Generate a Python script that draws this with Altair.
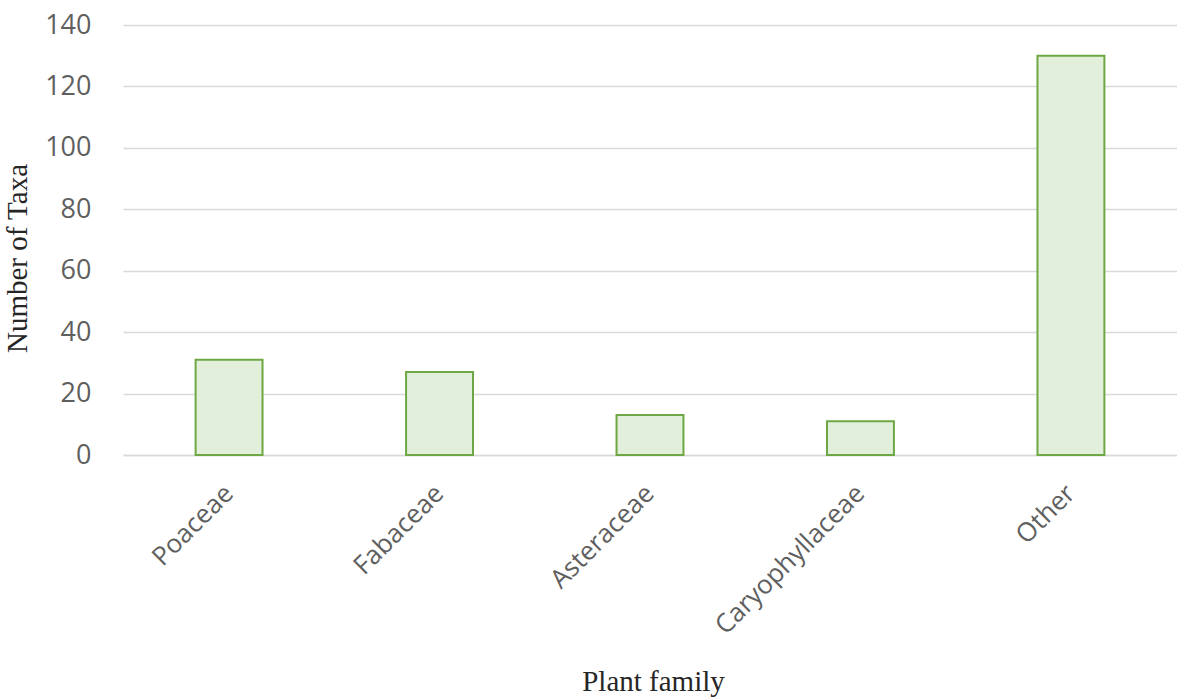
import altair as alt
import pandas as pd

# Number of taxa recorded per plant family
families = ["Poaceae", "Fabaceae", "Asteraceae", "Caryophyllaceae", "Other"]
taxa_counts = [31, 27, 13, 11, 130]
y_ticks = [0, 20, 40, 60, 80, 100, 120, 140]

df = pd.DataFrame({"family": families, "taxa": taxa_counts})

label_font = "Open Sans"
title_font = "Liberation Serif"

bars = alt.Chart(df).mark_bar(
    fill="#E2EFDA",
    stroke="#6EA844",
    strokeWidth=2,
).encode(
    x=alt.X(
        "family:N",
        sort=families,
        scale=alt.Scale(paddingInner=0.682, paddingOuter=0.345),
        axis=alt.Axis(
            title="Plant family",
            titleFont=title_font,
            titleFontSize=29,
            titleFontWeight="normal",
            titleColor="#262626",
            titleX=530,
            titleY=226,
            titleBaseline="middle",
            titleAlign="center",
            labelAngle=-45,
            labelAlign="right",
            labelBaseline="middle",
            labelFont=label_font,
            labelFontSize=26,
            labelColor="#5F5F5F",
            labelPadding=34,
            labelLimit=0,
            ticks=False,
            tickSize=0,
            domain=True,
            domainColor="#D9D9D9",
            domainWidth=1.5,
            grid=False,
        ),
    ),
    y=alt.Y(
        "taxa:Q",
        scale=alt.Scale(domain=[0, 140], nice=False),
        axis=alt.Axis(
            title="Number of Taxa",
            titleFont=title_font,
            titleFontSize=29,
            titleFontWeight="normal",
            titleColor="#262626",
            titleAngle=270,
            titleX=-106,
            titleY=233,
            titleAlign="center",
            titleBaseline="middle",
            values=y_ticks,
            labelFont=label_font,
            labelFontSize=27,
            labelColor="#5F5F5F",
            labelPadding=32,
            ticks=False,
            tickSize=0,
            domain=False,
            grid=True,
            gridColor="#D9D9D9",
            gridWidth=1.5,
        ),
    ),
)

chart = bars.properties(
    width=1054,
    height=430,
    background="white",
    autosize=alt.AutoSizeParams(type="none"),
    padding={"left": 123, "top": 25, "right": 0, "bottom": 245},
).configure_view(stroke=None, strokeWidth=0)

chart.save("out.html", embed_options={"renderer": "svg", "actions": False})
